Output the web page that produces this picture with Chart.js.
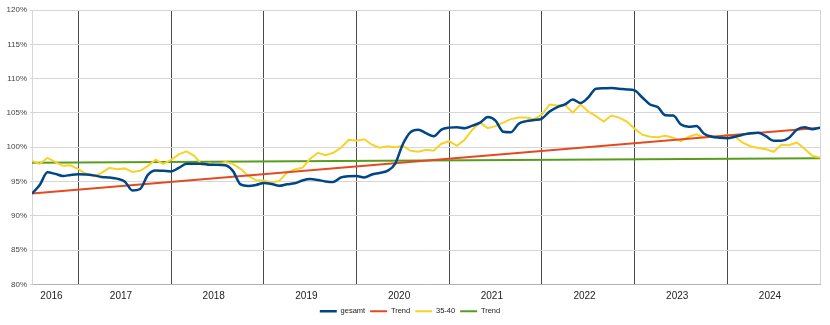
<!DOCTYPE html>
<html>
<head>
<meta charset="utf-8">
<script src="https://cdn.jsdelivr.net/npm/chart.js@4"></script>
<style>
  html, body { margin: 0; padding: 0; background: #fff; }
</style>
</head>
<body>
<canvas id="chart" width="830" height="325"></canvas>
<script>
// monthly values, first point = July 2016, last point = end of 2024
const xStart = 2016.5;
const xEnd = 2025;
const years = [2016, 2017, 2018, 2019, 2020, 2021, 2022, 2023, 2024];

const gesamt = [
  93.26, 94.5, 96.34, 96.12, 95.82, 95.97, 96.07, 96.04, 95.9, 95.68,
  95.58, 95.43, 95.02, 93.7, 93.92, 95.97, 96.63, 96.56, 96.48, 97.0,
  97.58, 97.58, 97.58, 97.44, 97.44, 97.39, 96.56, 94.58, 94.36, 94.5,
  94.8, 94.65, 94.39, 94.61, 94.75, 95.16, 95.38, 95.24, 95.02, 94.94,
  95.6, 95.79, 95.82, 95.6, 96.04, 96.26, 96.56, 97.58, 100.44, 102.2,
  102.56, 102.05, 101.61, 102.56, 102.86, 102.93, 102.78, 103.15, 103.59, 104.4,
  103.88, 102.27, 102.2, 103.44, 103.81, 103.96, 104.18, 105.2, 105.86, 106.23,
  106.96, 106.45, 107.25, 108.53, 108.6, 108.62, 108.53, 108.42, 108.28, 107.25,
  106.23, 105.86, 104.66, 104.62, 103.3, 103.0, 103.08, 101.98, 101.54, 101.39,
  101.32, 101.54, 101.83, 102.05, 102.12, 101.61, 100.95, 100.95, 101.39, 102.56,
  102.9, 102.64, 102.86
];

const age3540 = [
  98.02, 97.58, 98.46, 97.88, 97.29, 97.36, 96.8, 96.12, 95.75, 96.26,
  97.0, 96.78, 96.92, 96.41, 96.56, 97.29, 98.17, 97.58, 98.17, 98.97,
  99.41, 98.75, 97.44, 97.66, 97.36, 97.88, 97.58, 96.85, 95.82, 95.19,
  95.16, 94.87, 95.09, 96.26, 96.78, 97.0, 98.32, 99.19, 98.83, 99.19,
  99.93, 101.1, 100.95, 101.17, 100.37, 99.93, 100.15, 100.0, 100.22, 99.49,
  99.34, 99.63, 99.49, 100.51, 100.88, 100.22, 101.1, 102.56, 103.59, 102.78,
  103.08, 103.59, 104.1, 104.32, 104.32, 104.1, 104.76, 106.23, 106.08, 106.15,
  105.05, 106.23, 105.2, 104.54, 103.74, 104.62, 104.32, 103.74, 102.71, 101.83,
  101.54, 101.47, 101.68, 101.39, 100.88, 101.54, 101.9, 101.47, 101.68, 101.47,
  101.83, 101.54, 100.66, 100.15, 99.88, 99.71, 99.34, 100.37, 100.29, 100.7,
  99.78, 98.75, 98.5
];

// linear trends, start and end value
const trendGesamt = [93.25, 102.85];
const trend3540 = [97.75, 98.4];

const FONT = "'Liberation Sans', Arial, sans-serif";

function monthly(values) {
  return values.map((v, i) => ({ x: xStart + i / 12, y: v }));
}
function trend(values) {
  return [{ x: xStart, y: values[0] }, { x: xEnd, y: values[1] }];
}

// year boundaries get a dark grid line, year labels sit inside each year
const xTicks = [];
years.forEach(y => {
  if (y > xStart) xTicks.push({ value: y, kind: 'line' });
  const from = Math.max(y, xStart), to = Math.min(y + 1, xEnd);
  xTicks.push({ value: (from + to) / 2 - 0.04, kind: 'label', year: y });
});
xTicks.push({ value: xEnd, kind: 'edge' });

const ctx = document.getElementById('chart').getContext('2d');
new Chart(ctx, {
  type: 'line',
  data: {
    datasets: [
      { label: 'gesamt', data: monthly(gesamt), borderColor: '#004586', backgroundColor: '#004586',
        borderWidth: 2.5, cubicInterpolationMode: 'monotone' },
      { label: 'Trend', data: trend(trendGesamt), borderColor: '#e24b22', backgroundColor: '#e24b22',
        borderWidth: 2 },
      { label: '35-40', data: monthly(age3540), borderColor: '#f7d32a', backgroundColor: '#f7d32a',
        borderWidth: 2, tension: 0 },
      { label: 'Trend', data: trend(trend3540), borderColor: '#579d1c', backgroundColor: '#579d1c',
        borderWidth: 2 }
    ]
  },
  options: {
    responsive: false,
    animation: false,
    layout: { padding: { top: 10, right: 10, left: 0, bottom: 0 } },
    elements: { point: { radius: 0 } },
    scales: {
      x: {
        type: 'linear',
        min: xStart,
        max: xEnd,
        afterBuildTicks: scale => { scale.ticks = xTicks.map(t => ({ value: t.value })); },
        afterFit: scale => { scale.height = 18; },
        ticks: {
          autoSkip: false,
          maxRotation: 0,
          padding: 6,
          color: '#222',
          font: { family: FONT, size: 10 },
          callback: (v, i) => xTicks[i].kind === 'label' ? String(xTicks[i].year) : ''
        },
        grid: {
          drawTicks: false,
          color: c => {
            const t = xTicks[c.index];
            if (!t) return 'transparent';
            if (t.kind === 'line') return '#4a4a4a';
            if (t.kind === 'edge') return '#d4d4d4';
            return 'transparent';
          }
        },
        border: { color: '#b4b4b4' }
      },
      y: {
        min: 80,
        max: 120,
        afterFit: scale => { scale.width = 32; },
        ticks: {
          stepSize: 5,
          padding: 3,
          color: '#444',
          font: { family: FONT, size: 8 },
          callback: v => v + '%'
        },
        grid: { color: '#d6d6d6', tickLength: 2 },
        border: { color: '#d6d6d6' }
      }
    },
    plugins: {
      legend: {
        position: 'bottom',
        labels: {
          usePointStyle: true,
          pointStyle: 'line',
          pointStyleWidth: 17,
          padding: 5,
          color: '#222',
          font: { family: FONT, size: 7.5 }
        }
      },
      tooltip: { enabled: false }
    }
  }
});
</script>
</body>
</html>
